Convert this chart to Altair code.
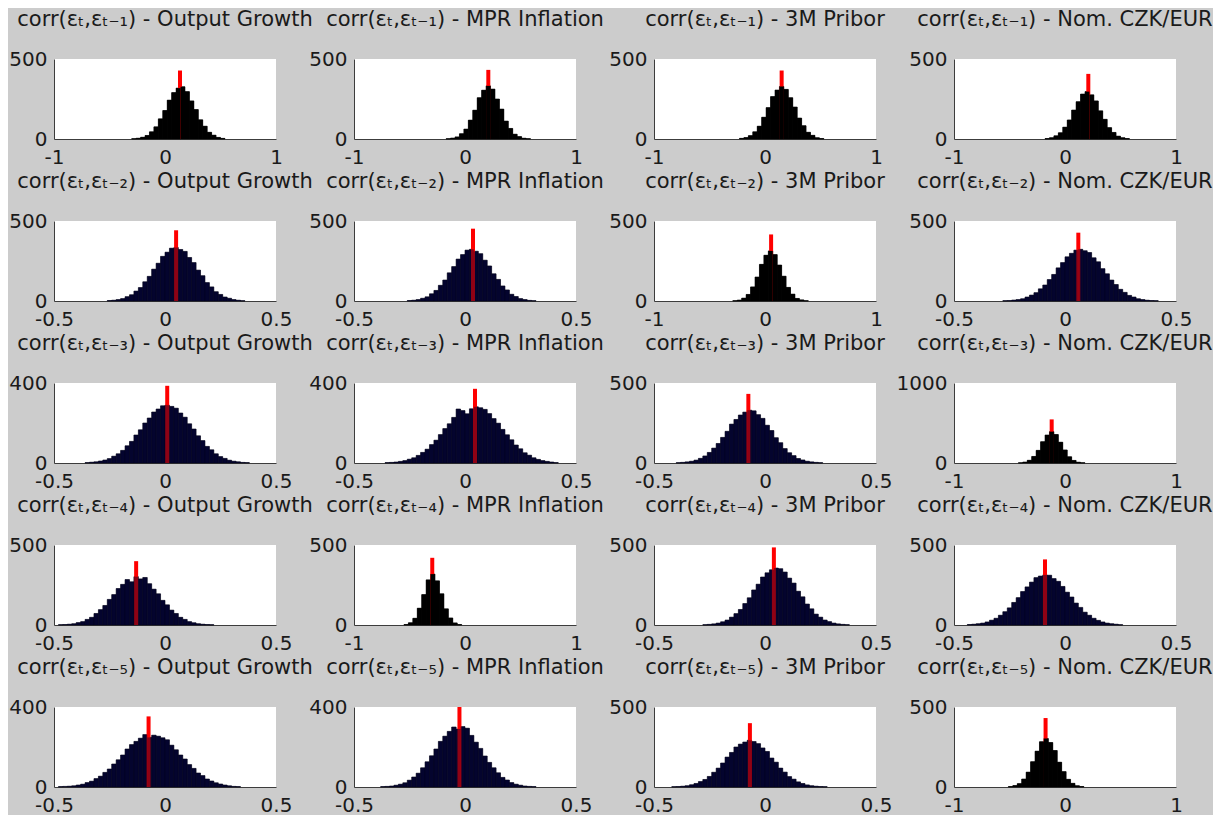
import altair as alt
import pandas as pd

# ---------------- data ----------------
variables = ["Output Growth", "MPR Inflation", "3M Pribor", "Nom. CZK/EUR"]
lag_subscripts = ["₁", "₂", "₃", "₄", "₅"]

# histogram bin heights (row-major: lag 1..5, variable 1..4)
og1 = [2, 5, 11, 22, 45, 76, 126, 178, 243, 290, 318, 326, 296, 238, 184, 120, 80, 42, 24, 10, 4]
mpr1 = [2, 6, 13, 33, 62, 118, 180, 258, 305, 332, 312, 250, 187, 112, 66, 30, 15, 5, 2]
pri1 = [4, 9, 21, 45, 80, 136, 196, 265, 306, 328, 310, 258, 200, 131, 83, 42, 23, 8, 3]
czk1 = [3, 8, 20, 39, 74, 119, 181, 233, 281, 296, 276, 238, 176, 123, 71, 41, 18, 8, 3]

og2 = [3, 5, 9, 15, 27, 39, 62, 84, 120, 154, 199, 236, 279, 305, 330, 334, 322, 310, 272, 240,
       193, 158, 115, 88, 58, 41, 25, 17, 9, 5, 2]
mpr2 = [3, 5, 9, 17, 26, 45, 66, 98, 131, 176, 215, 262, 290, 318, 323, 311, 296, 255, 219, 170,
        135, 94, 69, 42, 28, 15, 9, 4, 2]
pri2 = [2, 6, 18, 41, 88, 150, 229, 286, 313, 290, 225, 155, 85, 43, 16, 7, 2]
czk2 = [2, 3, 6, 9, 14, 25, 37, 52, 76, 100, 134, 166, 207, 240, 276, 298, 318, 323, 314, 303,
        270, 245, 202, 170, 131, 103, 73, 54, 35, 25, 14, 9, 5, 3, 2]

og3 = [2, 4, 6, 10, 15, 22, 34, 46, 63, 86, 108, 140, 166, 200, 225, 255, 270, 286, 289, 283,
       274, 250, 229, 196, 170, 136, 112, 83, 66, 46, 32, 23, 14, 9, 6, 3, 2]
mpr3 = [2, 3, 5, 8, 12, 19, 26, 38, 53, 69, 92, 114, 142, 172, 196, 228, 270, 262, 246, 271,
        281, 276, 268, 247, 222, 199, 168, 141, 116, 90, 71, 51, 39, 26, 18, 12, 8, 5, 2]
pri3 = [2, 4, 7, 11, 18, 29, 44, 66, 93, 122, 160, 198, 243, 272, 300, 318, 330, 326, 302, 279,
        236, 203, 158, 127, 90, 64, 46, 28, 19, 11, 7, 4, 2]
czk3 = [3, 12, 34, 82, 158, 266, 350, 392, 356, 260, 163, 78, 32, 10, 3]

og4 = [2, 3, 5, 8, 15, 21, 35, 48, 72, 96, 122, 160, 190, 228, 254, 284, 270, 302, 288, 297,
       258, 224, 195, 154, 126, 93, 72, 48, 35, 21, 14, 8, 5, 3, 2]
mpr4 = [3, 14, 42, 105, 190, 282, 318, 276, 195, 101, 44, 13, 3]
pri4 = [2, 4, 7, 12, 20, 31, 49, 71, 97, 134, 170, 219, 255, 300, 326, 345, 356, 352, 331, 293,
        262, 211, 176, 131, 101, 68, 49, 31, 21, 12, 7, 4, 2]
czk4 = [3, 5, 8, 12, 19, 30, 42, 61, 83, 107, 141, 171, 209, 238, 268, 296, 306, 313, 311, 290,
        273, 241, 205, 175, 137, 110, 80, 61, 42, 29, 19, 12, 8, 5, 2]

og5 = [2, 3, 4, 6, 10, 14, 22, 29, 42, 54, 73, 90, 115, 136, 160, 190, 212, 228, 244, 262,
       248, 259, 254, 246, 236, 209, 186, 160, 140, 112, 93, 70, 57, 40, 30, 21, 15, 10, 6, 3, 2]
mpr5 = [2, 3, 5, 9, 14, 21, 34, 50, 69, 96, 126, 156, 190, 228, 254, 278, 300, 290, 302, 294,
        258, 224, 193, 155, 123, 96, 71, 48, 35, 22, 14, 9, 5, 3, 2]
pri5 = [2, 3, 5, 8, 14, 22, 34, 47, 66, 92, 118, 150, 187, 216, 250, 268, 281, 292, 284, 271,
        244, 222, 181, 155, 118, 93, 65, 49, 32, 22, 13, 8, 5, 3, 2]
czk5 = [3, 9, 21, 50, 93, 158, 224, 283, 303, 278, 228, 155, 96, 48, 23, 8, 3]

heights = [og1, mpr1, pri1, czk1, og2, mpr2, pri2, czk2, og3, mpr3, pri3, czk3,
           og4, mpr4, pri4, czk4, og5, mpr5, pri5, czk5]

bin_start = [-0.30, -0.17, -0.23, -0.18,
             -0.26, -0.26, -0.29, -0.28,
             -0.36, -0.36, -0.40, -0.42,
             -0.48, -0.55, -0.28, -0.44,
             -0.48, -0.38, -0.42, -0.51]
bin_width = [0.04, 0.04, 0.04, 0.04,
             0.02, 0.02, 0.04, 0.02,
             0.02, 0.02, 0.02, 0.04,
             0.02, 0.04, 0.02, 0.02,
             0.02, 0.02, 0.02, 0.04]

# red line: position and height
red_x = [0.135, 0.21, 0.15, 0.21,
         0.05, 0.036, 0.055, 0.06,
         0.01, 0.045, -0.075, -0.12,
         -0.13, -0.295, 0.04, -0.09,
         -0.074, -0.025, -0.068, -0.175]
red_top = [428, 432, 428, 407,
           442, 452, 416, 427,
           386, 371, 432, 545,
           399, 420, 485, 410,
           353, 400, 399, 431]

# axis limits
x_limit = [1, 1, 1, 1,
           0.5, 0.5, 1, 0.5,
           0.5, 0.5, 0.5, 1,
           0.5, 1, 0.5, 0.5,
           0.5, 0.5, 0.5, 1]
y_limit = [500, 500, 500, 500,
           500, 500, 500, 500,
           400, 400, 500, 1000,
           500, 500, 500, 500,
           400, 400, 500, 500]
y_tick_sets = {400: [0, 200, 400], 500: [0, 500], 1000: [0, 500, 1000]}

FONT = "DejaVu Sans"


def panel(k):
    lag, var = divmod(k, 4)
    bw = bin_width[k]
    hs = heights[k]
    df = pd.DataFrame({
        "x": [round(bin_start[k] + i * bw, 4) for i in range(len(hs))],
        "x2": [round(bin_start[k] + (i + 1) * bw, 4) for i in range(len(hs))],
        "h": hs,
        "b": [0] * len(hs),
    })
    red = pd.DataFrame({"rx": [red_x[k]], "y0": [0], "y1": [red_top[k]]})
    lim = x_limit[k]
    xs = alt.Scale(domain=[-lim, lim], nice=False, zero=False)
    ys = alt.Scale(domain=[0, y_limit[k]], nice=False)
    color = "#000000" if lim == 1 else "#04042e"
    edge = "#000000" if lim == 1 else "#000012"
    overlay = 1.0 if lim == 1 else 0.45

    bars = alt.Chart(df).mark_rect(color=color, stroke=edge, strokeWidth=0.6).encode(
        x=alt.X("x:Q", scale=xs, title=None,
                axis=alt.Axis(values=[-lim, 0, lim], labelExpr="'' + datum.value")),
        x2="x2:Q",
        y=alt.Y("h:Q", scale=ys, title=None,
                axis=alt.Axis(values=y_tick_sets[y_limit[k]], labelExpr="'' + datum.value")),
        y2="b:Q",
    )
    rule = alt.Chart(red).mark_rule(color="#ff0000", strokeWidth=4).encode(
        x=alt.X("rx:Q", title=None),
        y=alt.Y("y0:Q", title=None),
        y2="y1:Q",
    )
    over = alt.Chart(df).mark_rect(color=color, opacity=overlay).encode(
        x=alt.X("x:Q", title=None),
        x2="x2:Q",
        y=alt.Y("h:Q", title=None),
        y2="b:Q",
    )
    title = "corr(εₜ,εₜ₋" + lag_subscripts[lag] + ") - " + variables[var]
    return alt.layer(bars, rule, over).properties(
        width=222, height=80,
        title=alt.TitleParams(text=title, font=FONT, fontSize=21, fontWeight="normal",
                              color="#1a1a1a", anchor="middle", frame="group",
                              baseline="alphabetic", offset=2),
    )


chart = alt.concat(*[panel(k) for k in range(20)], columns=4,
                   spacing={"row": 82, "column": 78}).properties(
    bounds="flush",
    padding={"left": 0, "top": 1, "right": 0, "bottom": 0},
    background="#cccccc",
).configure_view(
    fill="white", strokeWidth=0
).configure_axis(
    grid=False, ticks=False, tickSize=0,
    domainColor="#3c3c3c", domainWidth=1,
    labelFont=FONT, labelFontSize=20, labelColor="#1a1a1a",
    labelFlush=False, labelOverlap=False,
).configure_axisX(labelPadding=8).configure_axisY(labelPadding=7)

chart.save("out.html", embed_options={"renderer": "svg", "actions": False})
